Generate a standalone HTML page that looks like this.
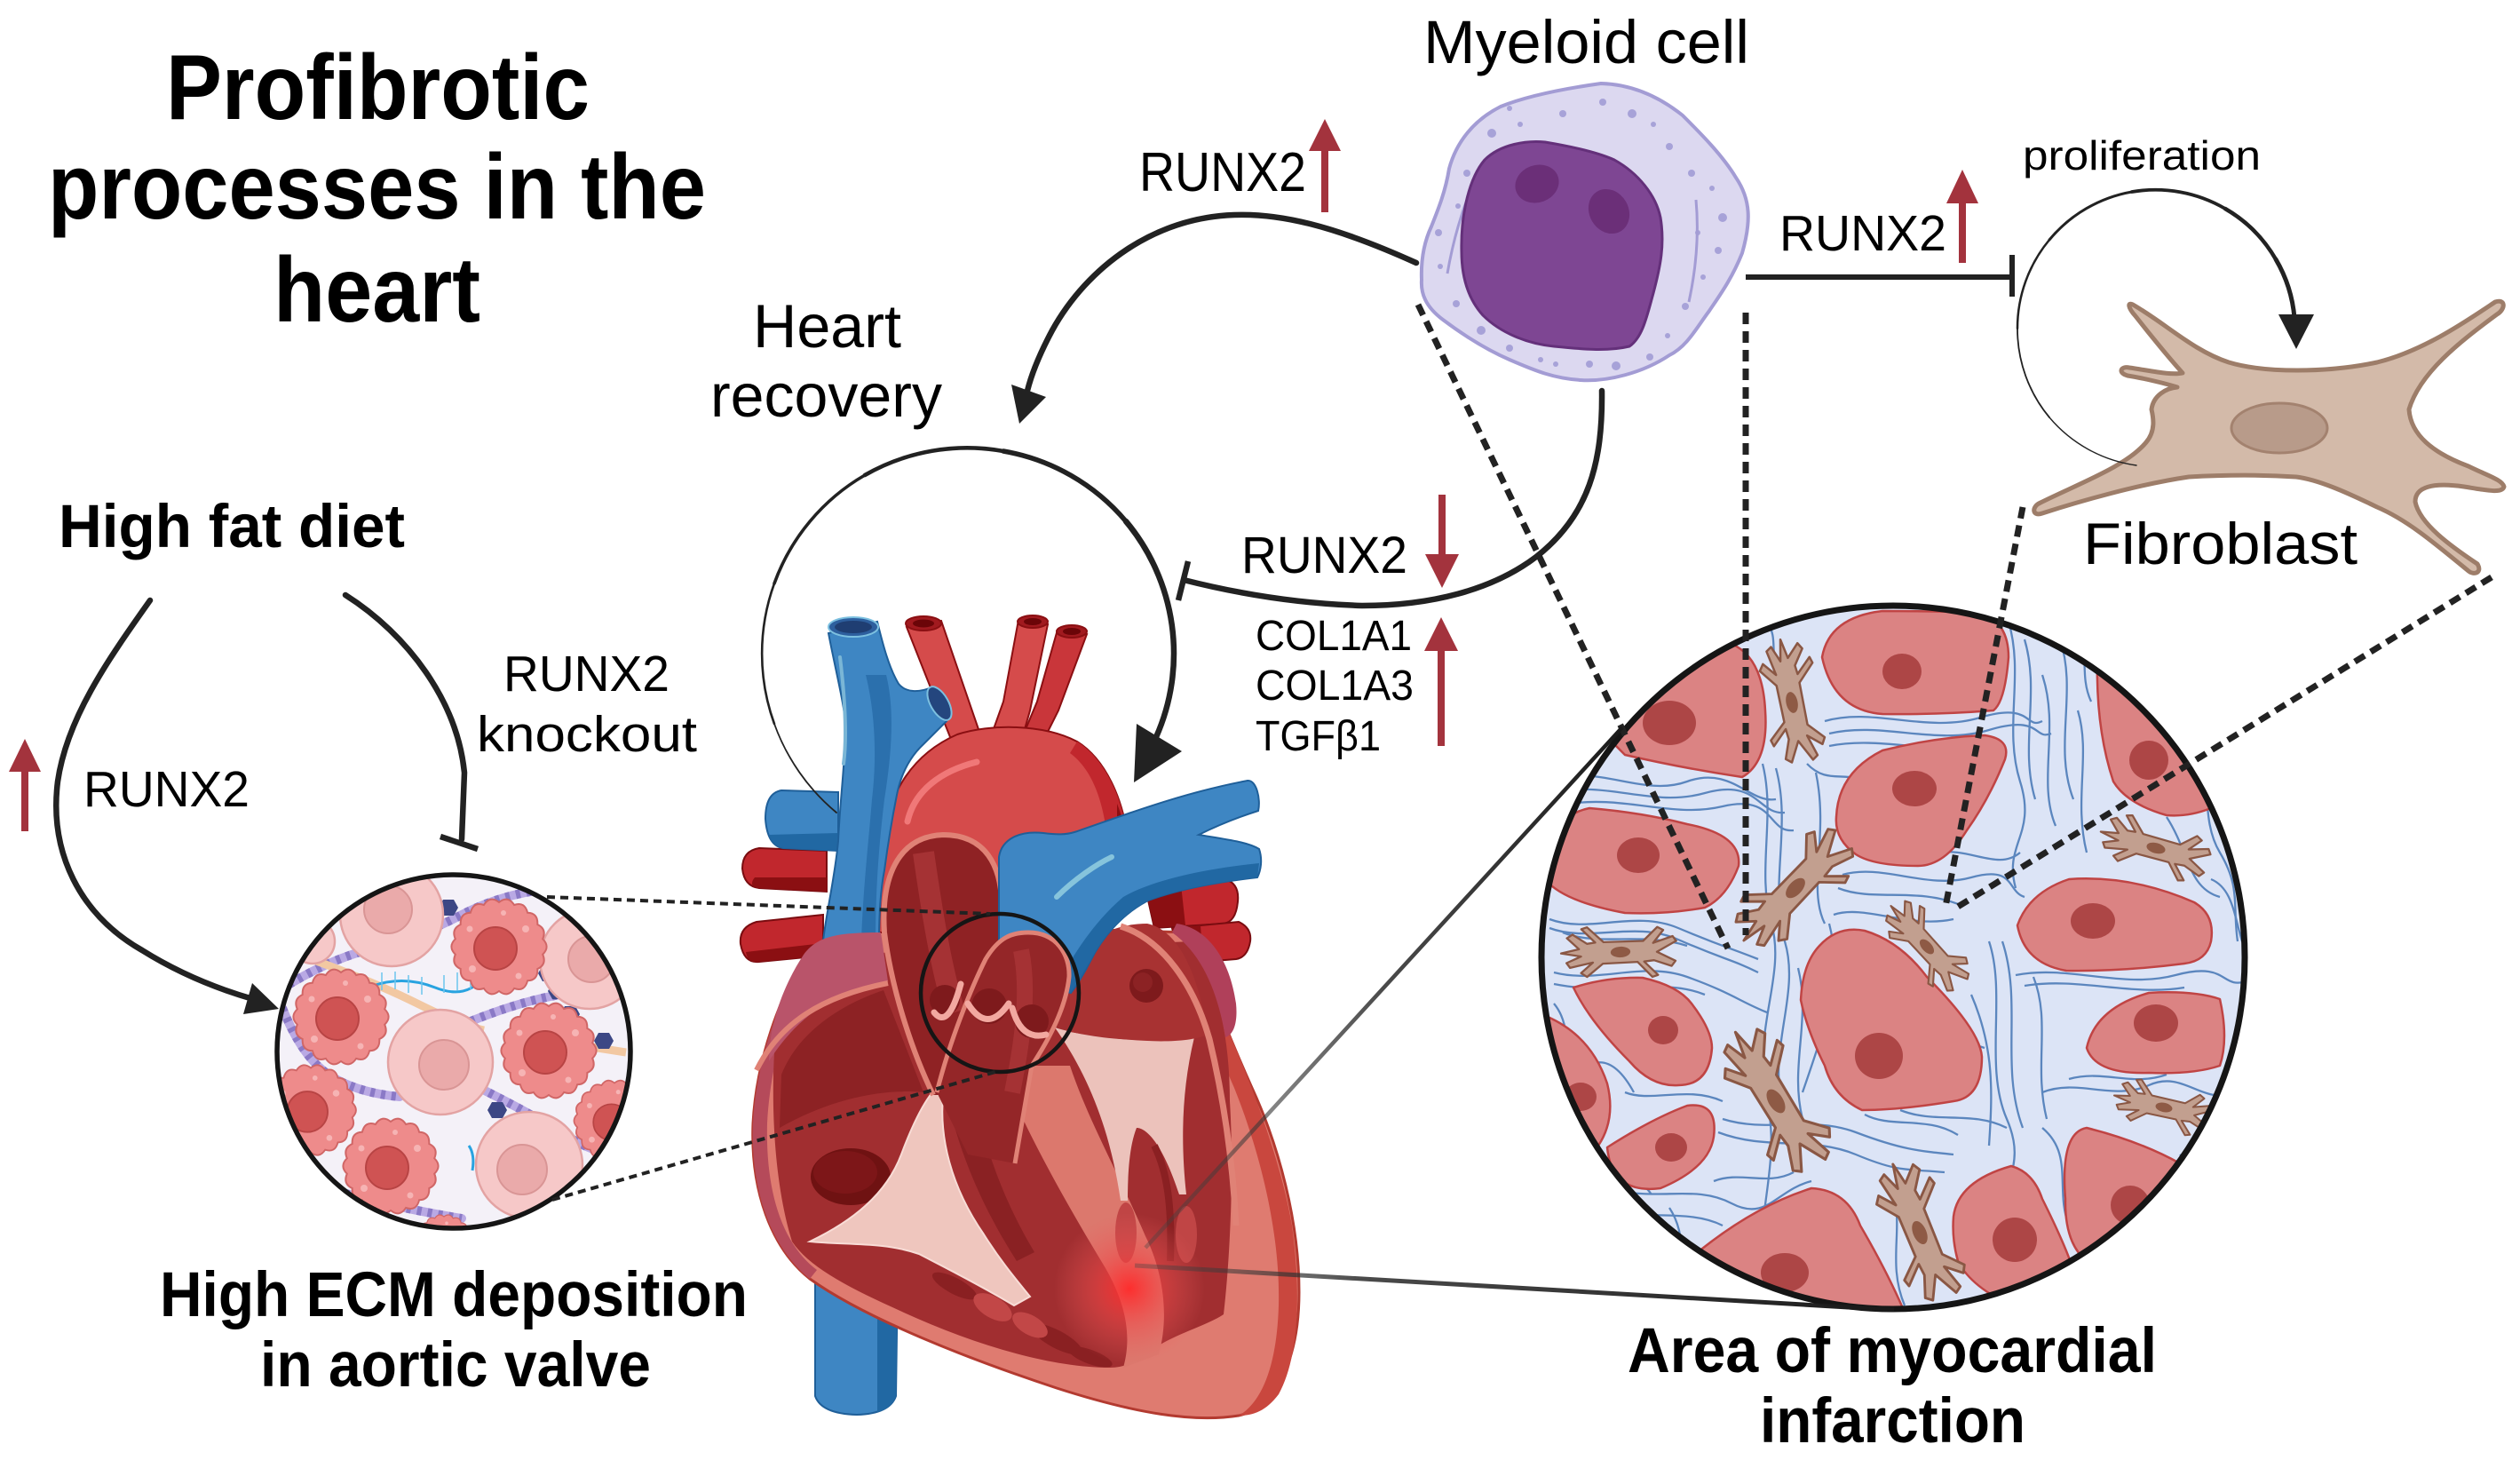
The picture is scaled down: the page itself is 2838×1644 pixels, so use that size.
<!DOCTYPE html>
<html><head><meta charset="utf-8"><style>html,body{margin:0;padding:0;background:#fff}svg{display:block}</style></head>
<body>
<svg width="2838" height="1644" viewBox="0 0 2838 1644" xmlns="http://www.w3.org/2000/svg" font-family="'Liberation Sans', Arial, sans-serif">
<defs>
  <clipPath id="miClip"><circle cx="2132" cy="1078" r="396"/></clipPath>
  <clipPath id="ecmClip"><circle cx="511" cy="1184" r="199"/></clipPath>
  <radialGradient id="glow" cx="1272" cy="1451" r="85" gradientUnits="userSpaceOnUse">
    <stop offset="0" stop-color="#ff2a2a" stop-opacity="0.95"/>
    <stop offset="0.45" stop-color="#f04848" stop-opacity="0.55"/>
    <stop offset="1" stop-color="#e86060" stop-opacity="0"/>
  </radialGradient>
  <linearGradient id="lg1" x1="1290" y1="1405" x2="1827" y2="819" gradientUnits="userSpaceOnUse">
    <stop offset="0" stop-color="#444" stop-opacity="0.35"/><stop offset="0.5" stop-color="#2a2a2a" stop-opacity="0.85"/><stop offset="1" stop-color="#1a1a1a"/>
  </linearGradient>
  <linearGradient id="lg2" x1="1278" y1="1425" x2="2133" y2="1475" gradientUnits="userSpaceOnUse">
    <stop offset="0" stop-color="#444" stop-opacity="0.35"/><stop offset="0.3" stop-color="#2a2a2a" stop-opacity="0.85"/><stop offset="1" stop-color="#1a1a1a"/>
  </linearGradient>
  <g id="fb">
    <path d="M-72,-2 L-50,-6 L-64,-20 L-57,-24 L-40,-12 L-30,-13 L-46,-30 L-39,-32 L-20,-13 L28,-12 L46,-28 L53,-24 L40,-9 L64,-16 L68,-10 L44,2 L66,14 L61,20 L40,12 L28,13 L44,30 L37,32 L20,13 L-22,13 L-42,28 L-49,23 L-34,11 L-62,16 L-66,10 L-48,3 Z" fill="#c29f8f" stroke="#8a5744" stroke-width="2.5" stroke-linejoin="round"/>
    <ellipse cx="0" cy="0" rx="12" ry="6.5" fill="#8e5a45"/>
  </g>
  <g id="bc">
    <path d="M49.2,8.7 Q54,20 43.3,25 Q44,38 32.1,38.3 Q29,51 17.1,47 Q10,58 0,50 Q-10,58 -17.1,47 Q-29,51 -32.1,38.3 Q-44,38 -43.3,25 Q-54,20 -49.2,8.7 Q-58,0 -49.2,-8.7 Q-54,-20 -43.3,-25 Q-44,-38 -32.1,-38.3 Q-29,-51 -17.1,-47 Q-10,-58 0,-50 Q10,-58 17.1,-47 Q29,-51 32.1,-38.3 Q44,-38 43.3,-25 Q54,-20 49.2,-8.7 Q58,0 49.2,8.7 Z" fill="#ee8b8b" stroke="#d06666" stroke-width="2"/>
    <circle cx="-4" cy="2" r="24" fill="#cf5353" stroke="#b84444" stroke-width="2"/>
    <circle cx="30" cy="-20" r="4" fill="#f6b4b4"/><circle cx="-30" cy="25" r="4" fill="#f6b4b4"/><circle cx="22" cy="33" r="3.5" fill="#f6b4b4"/><circle cx="-33" cy="-20" r="3.5" fill="#f6b4b4"/><circle cx="5" cy="-38" r="3" fill="#f6b4b4"/>
  </g>
  <polygon id="hx" points="-6,-9 6,-9 11,0 6,9 -6,9 -11,0" fill="#3c4785"/>
</defs>

<!-- ================= TITLE ================= -->
<g font-weight="700" fill="#000">
  <text x="187" y="134" font-size="104" textLength="477" lengthAdjust="spacingAndGlyphs">Profibrotic</text>
  <text x="54" y="246" font-size="104" textLength="741" lengthAdjust="spacingAndGlyphs">processes in the</text>
  <text x="308" y="362" font-size="104" textLength="233" lengthAdjust="spacingAndGlyphs">heart</text>
  <text x="66" y="616" font-size="69" textLength="390" lengthAdjust="spacingAndGlyphs">High fat diet</text>
  <text x="180" y="1482" font-size="71" textLength="662" lengthAdjust="spacingAndGlyphs">High ECM deposition</text>
  <text x="293" y="1561" font-size="71" textLength="440" lengthAdjust="spacingAndGlyphs">in aortic valve</text>
  <text x="1833" y="1545" font-size="71" textLength="596" lengthAdjust="spacingAndGlyphs">Area of myocardial</text>
  <text x="1982" y="1624" font-size="71" textLength="299" lengthAdjust="spacingAndGlyphs">infarction</text>
</g>

<!-- ================= HEART ================= -->
<g>
  <!-- left red tubes -->
  <path d="M931,958 L855,955 Q836,958 836,978 Q838,998 855,1000 L931,1004 Z" fill="#c1272d" stroke="#7a0c10" stroke-width="2"/>
  <path d="M931,988 L850,988 Q842,998 855,1000 L931,1004Z" fill="#8b0f12"/>
  <path d="M927,1030 L852,1038 Q832,1044 834,1063 Q838,1085 855,1083 L927,1076 Z" fill="#c1272d" stroke="#7a0c10" stroke-width="2"/>
  <path d="M927,1062 L840,1072 Q842,1085 855,1083 L927,1076 Z" fill="#8b0f12"/>
  <!-- blue left branch -->
  <path d="M944,892 L880,890 Q862,893 862,922 Q864,952 882,955 L944,958 Z" fill="#3e86c3" stroke="#1f5f99" stroke-width="2"/>
  <path d="M944,938 L866,940 Q870,952 882,955 L944,958 Z" fill="#2168a3"/>
  <!-- right red tubes -->
  <path d="M1290,1000 L1380,990 Q1396,995 1394,1015 Q1392,1038 1378,1040 L1300,1045 Z" fill="#c1272d" stroke="#7a0c10" stroke-width="2"/>
  <path d="M1320,1045 L1395,1038 Q1410,1045 1408,1060 Q1405,1078 1392,1080 L1330,1085 Z" fill="#c1272d" stroke="#7a0c10" stroke-width="2"/>
  <path d="M1290,1000 L1330,996 L1335,1042 L1300,1045 Z" fill="#8b0f12"/>
  <path d="M1320,1045 L1352,1042 L1355,1083 L1330,1085 Z" fill="#8b0f12"/>
  <!-- IVC -->
  <path d="M918,1430 L918,1572 Q925,1592 965,1593 Q1002,1592 1009,1572 L1011,1430 Z" fill="#3e86c3" stroke="#1f5f99" stroke-width="2"/>
  <path d="M988,1440 L1011,1440 L1009,1572 Q1004,1586 988,1590 Z" fill="#2168a3"/>
  <!-- body -->
  <path d="M905,1080 C880,1120 852,1190 848,1265 C845,1340 868,1405 912,1440 C975,1485 1090,1530 1190,1563 C1280,1592 1345,1602 1395,1594 C1440,1584 1463,1525 1463,1455 C1463,1375 1440,1290 1410,1225 C1392,1185 1380,1155 1372,1135 L1340,1050 L1000,1040 Z" fill="#df7b70" stroke="#b33a30" stroke-width="3"/>
  <path d="M1372,1135 C1392,1180 1440,1290 1455,1380 C1466,1460 1462,1530 1440,1570 C1425,1590 1410,1594 1395,1594 C1420,1580 1438,1540 1440,1470 C1442,1390 1420,1300 1390,1225 C1375,1190 1362,1160 1355,1145 Z" fill="#c9473e"/>
  <path d="M905,1080 C880,1120 852,1190 848,1265 C845,1340 868,1405 912,1440 L920,1430 C880,1400 862,1340 864,1265 C868,1190 890,1130 915,1090 Z" fill="#b54a5a"/>
  <!-- cavity -->
  <path d="M872,1185 C875,1130 900,1095 935,1075 L1345,1060 C1372,1110 1385,1170 1385,1240 C1390,1320 1385,1420 1378,1480 C1360,1492 1330,1500 1305,1515 C1285,1530 1270,1540 1250,1540 C1180,1540 1090,1512 1005,1472 C950,1447 910,1425 892,1398 C874,1340 868,1260 872,1185 Z" fill="#a12e30"/>
  <!-- RV inner shading -->
  <path d="M880,1210 C900,1160 950,1130 995,1115 L1040,1230 C990,1225 930,1240 878,1270 Z" fill="#8d2224"/>
  <ellipse cx="958" cy="1325" rx="45" ry="32" fill="#6f1212"/>
  <ellipse cx="952" cy="1320" rx="36" ry="24" fill="#7d1618"/>
  <!-- septum -->
  <path d="M1125,1200 C1160,1285 1210,1370 1245,1428 C1268,1468 1275,1505 1265,1540 L1305,1525 C1318,1478 1308,1428 1290,1392 C1258,1318 1225,1260 1205,1200 Z" fill="#dc786d"/>
  <path d="M1070,1250 C1085,1310 1110,1365 1145,1420 L1165,1410 C1135,1360 1110,1300 1100,1240 Z" fill="#8a2123"/>
  <!-- tricuspid leaflet -->
  <path d="M912,1398 C960,1375 998,1345 1015,1300 C1030,1260 1042,1240 1050,1230 L1062,1235 C1058,1280 1070,1335 1108,1390 C1128,1422 1148,1445 1160,1460 L1142,1470 C1100,1445 1060,1425 1035,1412 C995,1398 950,1402 912,1398 Z" fill="#efc6be" stroke="#f8dcd6" stroke-width="2"/>
  <g fill="#8a2022">
    <ellipse cx="1075" cy="1448" rx="28" ry="9" transform="rotate(28 1075 1448)"/>
    <ellipse cx="1190" cy="1508" rx="32" ry="10" transform="rotate(28 1190 1508)"/>
    <ellipse cx="1228" cy="1528" rx="26" ry="8" transform="rotate(20 1228 1528)"/>
  </g>
  <g fill="#c24747">
    <ellipse cx="1118" cy="1472" rx="24" ry="12" transform="rotate(30 1118 1472)"/>
    <ellipse cx="1160" cy="1492" rx="22" ry="11" transform="rotate(30 1160 1492)"/>
  </g>
  <!-- mitral chordae -->
  <path d="M1188,1157 C1230,1170 1290,1175 1345,1168 C1330,1230 1330,1290 1336,1345 L1328,1345 C1310,1290 1292,1270 1280,1270 C1272,1290 1270,1320 1270,1352 L1262,1352 C1250,1270 1225,1210 1188,1157 Z" fill="#ecc2bb"/>
  <ellipse cx="1268" cy="1388" rx="12" ry="34" fill="#c04545"/>
  <ellipse cx="1336" cy="1390" rx="12" ry="32" fill="#c04545"/>
  <path d="M1300,1290 C1315,1320 1320,1360 1318,1420" stroke="#8a2022" stroke-width="8" fill="none"/>
  <!-- glow -->
  <circle cx="1272" cy="1451" r="85" fill="url(#glow)"/>

  <!-- aorta branches -->
  <path d="M1021,706 L1060,699 L1105,830 L1072,835 Z" fill="#d54b4b" stroke="#8b0f12" stroke-width="2"/>
  <path d="M1147,698 L1180,703 L1160,800 L1150,835 L1115,832 L1130,790 Z" fill="#d54b4b" stroke="#8b0f12" stroke-width="2"/>
  <path d="M1191,709 L1224,714 L1192,800 L1172,840 L1148,838 L1168,790 Z" fill="#c9363a" stroke="#8b0f12" stroke-width="2"/>
  <ellipse cx="1040" cy="702" rx="20" ry="8" fill="#a11a1f" stroke="#8b0f12" stroke-width="2"/>
  <ellipse cx="1040" cy="702" rx="12" ry="4.5" fill="#6b0508"/>
  <ellipse cx="1163" cy="700" rx="17" ry="7" fill="#a11a1f" stroke="#8b0f12" stroke-width="2"/>
  <ellipse cx="1163" cy="700" rx="10" ry="4" fill="#6b0508"/>
  <ellipse cx="1207" cy="711" rx="17" ry="7" fill="#a11a1f" stroke="#8b0f12" stroke-width="2"/>
  <ellipse cx="1207" cy="711" rx="10" ry="4" fill="#6b0508"/>
  <!-- aorta arch -->
  <path d="M990,1050 L994,950 C1000,890 1030,848 1078,827 C1115,815 1175,815 1213,835 C1245,855 1265,900 1270,945 L1275,1005 L1220,1000 L1180,965 L1130,960 L1126,1050 Z" fill="#d54b4b" stroke="#8b0f12" stroke-width="2"/>
  <path d="M1213,835 C1245,855 1265,900 1270,945 L1275,1005 L1250,1003 L1246,935 C1240,895 1228,865 1205,848 Z" fill="#c1272d"/>
  <path d="M1258,905 C1266,925 1270,945 1275,1005 L1262,1004 L1258,940 Z" fill="#8b0f12"/>
  <path d="M1022,925 C1030,890 1060,868 1100,858" stroke="#f07878" stroke-width="7" fill="none" stroke-linecap="round"/>
  <!-- SVC -->
  <path d="M933,713 C940,750 950,790 952,813 C952,860 946,900 944,947 C940,990 930,1030 927,1060 L990,1060 C990,1030 992,1000 996,980 C1000,950 1005,920 1010,895 C1015,870 1025,852 1040,838 L1066,812 L1049,774 C1035,780 1020,780 1012,770 C1000,750 993,720 988,700 Z" fill="#3e86c3" stroke="#1f5f99" stroke-width="2"/>
  <path d="M975,760 L998,760 C1008,800 1004,850 996,900 C990,950 986,1000 986,1060 L970,1060 C972,1000 978,950 982,900 C988,850 985,800 975,760 Z" fill="#2b70ad"/>
  <ellipse cx="961" cy="706" rx="28" ry="11" fill="#2d5f9e" stroke="#7cc0e0" stroke-width="2"/>
  <ellipse cx="961" cy="706" rx="21" ry="7" fill="#1f3e72"/>
  <ellipse cx="1058" cy="792" rx="10" ry="21" transform="rotate(-30 1058 792)" fill="#24467e" stroke="#7cc0e0" stroke-width="2"/>
  <path d="M946,740 C952,790 954,830 950,860" stroke="#7ab6d6" stroke-width="4" fill="none" stroke-linecap="round"/>
  <!-- right atrium (pinkish) -->
  <path d="M905,1075 C920,1055 940,1050 992,1050 L1000,1105 C950,1112 900,1140 866,1195 C866,1150 885,1105 905,1075 Z" fill="#b9546a"/>
  <path d="M852,1205 C878,1152 925,1122 1000,1107" stroke="#e08276" stroke-width="6" fill="none"/>
  <!-- left atrium -->
  <path d="M1205,1085 C1225,1052 1262,1040 1292,1040 C1322,1046 1348,1085 1360,1165 C1330,1178 1262,1172 1205,1162 Z" fill="#a83232"/>
  <path d="M1262,1043 C1310,1058 1345,1110 1362,1170 C1376,1228 1388,1300 1392,1380" stroke="#e08276" stroke-width="7" fill="none"/>
  <path d="M1325,1040 C1360,1045 1385,1080 1392,1130 C1394,1150 1390,1165 1380,1168 C1372,1120 1355,1075 1320,1050 Z" fill="#b0405a"/>
  <circle cx="1291" cy="1110" r="19" fill="#7e1a1c"/>
  <circle cx="1287" cy="1106" r="11" fill="#8c2224"/>
  <!-- aortic root loop -->
  <path d="M1051,1233 C1030,1190 1005,1120 996,1050 C992,990 1010,942 1062,940 C1110,940 1128,975 1128,1020 L1128,1070 L1100,1100 L1080,1233 Z" fill="#8f2224"/>
  <path d="M1040,960 C1050,1030 1060,1090 1075,1140" stroke="#a53234" stroke-width="24" fill="none"/>
  <path d="M1051,1233 C1030,1190 1005,1120 996,1050 C992,990 1010,942 1062,940 C1110,940 1128,975 1128,1020 L1128,1070" stroke="#e08276" stroke-width="6" fill="none"/>
  <!-- pulmonary trunk -->
  <path d="M1125,965 C1128,945 1148,935 1175,938 C1190,940 1200,940 1210,937 C1260,920 1330,893 1405,879 C1415,878 1420,900 1417,913 C1395,920 1370,930 1350,940 C1380,945 1405,948 1418,956 C1422,968 1420,980 1416,988 C1380,992 1330,1000 1293,1014 C1262,1030 1240,1058 1228,1082 C1220,1098 1212,1110 1206,1118 L1150,1105 C1135,1090 1126,1075 1125,1060 Z" fill="#3e86c3" stroke="#1f5f99" stroke-width="2"/>
  <path d="M1416,988 C1380,992 1330,1000 1293,1014 C1262,1030 1240,1058 1228,1082 L1206,1118 L1190,1112 C1205,1080 1230,1040 1265,1010 C1300,990 1360,978 1418,972 Z" fill="#2168a3"/>
  <path d="M1190,1010 C1210,990 1235,973 1252,965" stroke="#86c4dc" stroke-width="6" fill="none" stroke-linecap="round"/>
  <!-- pulmonary root loop -->
  <path d="M1055,1230 C1070,1170 1095,1110 1110,1080 C1125,1055 1140,1050 1158,1050 C1190,1050 1205,1075 1204,1100 C1200,1140 1175,1180 1162,1200 L1143,1310 L1090,1300 Z" fill="#942628"/>
  <path d="M1150,1070 C1160,1120 1150,1180 1140,1230" stroke="#a53234" stroke-width="18" fill="none"/>
  <path d="M1055,1230 C1070,1170 1095,1110 1110,1080 C1125,1055 1140,1050 1158,1050 C1190,1050 1205,1075 1204,1100 C1200,1140 1175,1180 1162,1200 L1143,1310" stroke="#e08276" stroke-width="5" fill="none"/>
  <!-- cusps -->
  <g fill="#7e1a1c">
    <circle cx="1064" cy="1126" r="17"/><circle cx="1114" cy="1133" r="20"/><circle cx="1162" cy="1150" r="19"/>
  </g>
  <g fill="none" stroke="#f2a8a0" stroke-width="7" stroke-linecap="round">
    <path d="M1052,1140 Q1068,1160 1082,1108"/>
    <path d="M1090,1130 Q1112,1165 1136,1130"/>
    <path d="M1140,1135 Q1150,1172 1178,1165"/>
  </g>
  <!-- small black circle -->
  <circle cx="1126" cy="1118" r="89" fill="none" stroke="#151515" stroke-width="4.5"/>
</g>

<!-- ================= ECM CIRCLE ================= -->
<g clip-path="url(#ecmClip)">
  <rect x="300" y="970" width="430" height="430" fill="#f4f1f8"/>
  <g fill="none" stroke-width="10" stroke-linecap="round">
    <path d="M315,1115 Q370,1080 420,1068 T520,1030 T630,1000" stroke="#b9a9e4"/>
    <path d="M318,1135 Q340,1190 370,1210 T450,1235" stroke="#b9a9e4"/>
    <path d="M530,1150 Q580,1130 620,1122 T710,1098" stroke="#b9a9e4"/>
    <path d="M540,1225 Q600,1255 640,1280 T715,1300" stroke="#b9a9e4"/>
    <path d="M320,1320 Q370,1340 420,1352 T520,1372" stroke="#b9a9e4"/>
    <path d="M600,1372 Q640,1365 680,1335" stroke="#b9a9e4"/>
  </g>
  <g fill="none" stroke-width="10" stroke-dasharray="5 7" stroke="#8a79c6">
    <path d="M315,1115 Q370,1080 420,1068 T520,1030 T630,1000"/>
    <path d="M318,1135 Q340,1190 370,1210 T450,1235"/>
    <path d="M530,1150 Q580,1130 620,1122 T710,1098"/>
    <path d="M540,1225 Q600,1255 640,1280 T715,1300"/>
    <path d="M320,1320 Q370,1340 420,1352 T520,1372"/>
    <path d="M600,1372 Q640,1365 680,1335"/>
  </g>
  <path d="M345,1078 Q420,1105 470,1130 T545,1160" stroke="#f2c8a2" stroke-width="9" fill="none"/>
  <path d="M660,1178 L705,1185" stroke="#f2c8a2" stroke-width="9"/>
  <path d="M420,1110 Q455,1098 490,1112 T545,1100" stroke="#29a3e0" stroke-width="3" fill="none"/>
  <path d="M430,1095 l0,20 M445,1094 l0,20 M460,1098 l0,20 M475,1100 l0,20 M500,1098 l0,20 M515,1095 l0,20 M530,1094 l0,20" stroke="#6cc4ee" stroke-width="1.5"/>
  <path d="M528,1290 Q535,1300 532,1318" stroke="#29a3e0" stroke-width="3" fill="none"/>
  <g>
    <use href="#hx" x="505" y="1022"/><use href="#hx" x="617" y="1096"/><use href="#hx" x="628" y="1116"/>
    <use href="#hx" x="680" y="1172"/><use href="#hx" x="692" y="1232"/><use href="#hx" x="560" y="1250"/>
    <use href="#hx" x="470" y="1300"/><use href="#hx" x="642" y="1142"/><use href="#hx" x="680" y="1258"/>
  </g>
  <g fill="#f6c8c8" stroke="#e3a3a3" stroke-width="2.5">
    <circle cx="441" cy="1030" r="58"/><circle cx="664" cy="1080" r="56"/>
    <circle cx="496" cy="1196" r="59"/><circle cx="596" cy="1312" r="60"/>
    <circle cx="352" cy="1060" r="25"/>
  </g>
  <g fill="#eaaaaa" stroke="#d99595" stroke-width="2">
    <circle cx="437" cy="1024" r="27"/><circle cx="666" cy="1080" r="26"/>
    <circle cx="500" cy="1199" r="28"/><circle cx="588" cy="1317" r="28"/>
  </g>
  <use href="#bc" transform="translate(562,1066)"/>
  <use href="#bc" transform="translate(384,1145)"/>
  <use href="#bc" transform="translate(618,1183)"/>
  <use href="#bc" transform="translate(350,1250) scale(0.95)"/>
  <use href="#bc" transform="translate(440,1313)"/>
  <use href="#bc" transform="translate(692,1262) scale(0.85)"/>
  <use href="#bc" transform="translate(500,1400) scale(0.6)"/>
</g>
<circle cx="511" cy="1184" r="199" fill="none" stroke="#151515" stroke-width="5.5"/>

<!-- ================= MI CIRCLE ================= -->
<g clip-path="url(#miClip)">
  <rect x="1730" y="675" width="810" height="810" fill="#dce4f6"/>
  <g fill="none" stroke="#5b86be" stroke-width="2.3">
    <path d="M1745,878 C1800,860 1850,898 1900,880 S1970,905 2000,900"/>
    <path d="M1748,893 C1810,878 1860,910 1920,893 S1980,918 2010,915"/>
    <path d="M1760,906 C1830,894 1880,922 1940,908 S1990,938 2020,935"/>
    <path d="M1745,1035 C1790,1052 1840,1024 1890,1045 S1950,1068 1980,1080"/>
    <path d="M1745,1045 C1790,1062 1840,1036 1890,1058 S1950,1080 1980,1095"/>
    <path d="M1750,1095 C1800,1108 1850,1082 1900,1100 S1960,1128 1990,1140"/>
    <path d="M1750,1108 C1820,1122 1870,1100 1920,1120"/>
    <path d="M1985,860 C2000,920 1978,980 1995,1040 S1972,1160 1990,1240 S1968,1380 1990,1480"/>
    <path d="M2000,865 C2018,930 1992,1000 2010,1060 S1990,1180 2008,1250"/>
    <path d="M2045,870 C2060,940 2035,1000 2055,1040"/>
    <path d="M2025,1090 C2040,1150 2015,1200 2030,1260"/>
    <path d="M2055,812 C2110,796 2170,826 2230,808 S2280,822 2300,812"/>
    <path d="M2060,826 C2120,812 2180,840 2240,822 S2290,834 2310,826"/>
    <path d="M2060,840 C2120,828 2180,852 2240,838"/>
    <path d="M2262,700 C2280,760 2256,820 2275,880 S2256,950 2270,1000"/>
    <path d="M2280,720 C2298,780 2274,840 2292,900"/>
    <path d="M2300,760 C2320,820 2294,880 2315,930"/>
    <path d="M2320,720 C2340,780 2312,840 2335,900"/>
    <path d="M2340,800 C2355,850 2335,900 2350,960"/>
    <path d="M2075,985 C2120,972 2170,1002 2220,988 S2260,1004 2280,1010"/>
    <path d="M2070,1000 C2110,1016 2160,998 2210,1020"/>
    <path d="M2065,1030 C2100,1018 2150,1046 2200,1035"/>
    <path d="M2270,1098 C2330,1086 2390,1114 2450,1098 S2500,1114 2530,1105"/>
    <path d="M2280,1110 C2340,1100 2400,1122 2460,1112"/>
    <path d="M2240,1060 C2260,1120 2234,1200 2260,1260 S2244,1330 2265,1400"/>
    <path d="M2255,1060 C2278,1130 2252,1200 2278,1270"/>
    <path d="M2290,1100 C2310,1150 2290,1200 2305,1260"/>
    <path d="M2300,1230 C2340,1214 2380,1240 2420,1222 S2480,1246 2520,1230"/>
    <path d="M2330,1215 C2370,1204 2400,1224 2440,1210"/>
    <path d="M2300,1270 C2336,1300 2314,1340 2330,1380"/>
    <path d="M1940,1260 C1990,1276 2040,1256 2090,1275 S2160,1296 2200,1300"/>
    <path d="M1935,1275 C1990,1296 2040,1279 2090,1300 S2150,1316 2190,1320"/>
    <path d="M1930,1330 C1960,1318 1990,1336 2020,1320"/>
    <path d="M1760,1235 C1780,1195 1810,1175 1840,1230"/>
    <path d="M1830,1230 C1860,1242 1900,1222 1940,1240"/>
    <path d="M1750,1130 C1775,1160 1755,1200 1780,1230"/>
    <path d="M1820,1340 C1870,1352 1910,1334 1950,1355 S2000,1340 2040,1330"/>
    <path d="M1800,1360 C1850,1376 1900,1360 1940,1380"/>
    <path d="M2140,1250 C2180,1266 2220,1250 2260,1270"/>
    <path d="M2330,1300 C2360,1316 2380,1296 2420,1320"/>
    <path d="M2455,1300 C2480,1326 2500,1306 2520,1330"/>
    <path d="M2130,1340 C2146,1380 2124,1420 2145,1470"/>
    <path d="M2470,830 C2494,870 2476,920 2500,960 S2514,1020 2520,1060"/>
    <path d="M2490,990 C2514,1000 2516,1030 2525,1060"/>
    <path d="M1990,700 C2004,720 1991,740 2005,760"/>
    <path d="M2340,700 C2354,730 2341,760 2355,790"/>
    <path d="M2035,860 C2060,886 2080,864 2110,885"/>
    <path d="M2100,1255 C2130,1271 2170,1256 2205,1278"/>
    <path d="M1760,1050 C1800,1066 1850,1049 1900,1065"/>
    <path d="M2060,1040 C2076,1100 2054,1160 2030,1230"/>
    <path d="M2220,1120 C2246,1180 2244,1230 2240,1290"/>
    <path d="M2180,960 C2220,954 2250,981 2275,960"/>
    <path d="M1770,1300 C1800,1326 1830,1304 1860,1345"/>
    <path d="M2440,920 C2466,960 2464,1000 2500,1010"/>
    <path d="M1880,1360 C1900,1390 1890,1420 1905,1460"/>
    <path d="M2160,1130 C2190,1150 2200,1170 2235,1180"/>
  </g>
  <g fill="#db8383" stroke="#c04444" stroke-width="2.5" stroke-linejoin="round">
    <path d="M1800,820 Q1875,770 1950,725 Q1985,740 1988,800 Q1992,858 1962,875 Q1895,865 1830,850 Z"/>
    <path d="M2052,740 Q2060,695 2120,688 Q2180,688 2230,690 Q2262,700 2262,740 Q2258,790 2245,800 Q2180,805 2120,804 Q2065,800 2052,740 Z"/>
    <path d="M2068,920 Q2070,870 2120,845 Q2180,830 2235,828 Q2265,832 2258,855 Q2240,900 2215,935 Q2190,975 2160,975 Q2110,975 2090,962 Q2066,945 2068,920 Z"/>
    <path d="M1740,990 Q1740,920 1790,910 Q1850,915 1900,928 Q1962,940 1958,975 Q1945,1010 1920,1022 Q1875,1030 1830,1028 Q1760,1015 1740,990 Z"/>
    <path d="M1772,1112 Q1810,1100 1850,1101 Q1890,1110 1905,1130 Q1928,1160 1928,1180 Q1925,1222 1890,1222 Q1860,1224 1835,1195 Q1790,1150 1772,1112 Z"/>
    <path d="M1730,1140 Q1790,1160 1810,1220 Q1820,1260 1800,1290 Q1760,1300 1730,1300 Z"/>
    <path d="M1810,1292 Q1860,1260 1900,1245 Q1935,1240 1930,1280 Q1925,1315 1870,1338 Q1815,1345 1810,1292 Z"/>
    <path d="M2049,1065 Q2070,1042 2100,1048 Q2140,1060 2170,1100 Q2230,1160 2232,1190 Q2232,1236 2200,1240 Q2140,1250 2097,1250 Q2065,1235 2055,1200 Q2035,1160 2028,1126 Q2030,1085 2049,1065 Z"/>
    <path d="M1900,1420 Q1970,1360 2040,1338 Q2080,1340 2095,1380 Q2130,1440 2150,1490 L1920,1500 Z"/>
    <path d="M2362,740 Q2390,720 2420,718 Q2460,750 2480,790 Q2495,860 2490,910 Q2465,920 2440,918 Q2395,905 2380,880 Q2360,820 2362,740 Z"/>
    <path d="M2272,1042 Q2285,1005 2330,990 Q2400,985 2471,1016 Q2495,1030 2490,1060 Q2485,1082 2460,1085 Q2390,1094 2327,1093 Q2280,1085 2272,1042 Z"/>
    <path d="M2350,1180 Q2360,1135 2420,1118 Q2470,1115 2500,1125 Q2510,1170 2500,1200 Q2470,1210 2420,1208 Q2360,1210 2350,1180 Z"/>
    <path d="M2326,1350 Q2320,1275 2350,1270 Q2410,1285 2455,1310 Q2440,1380 2420,1400 Q2380,1420 2350,1420 Q2325,1400 2326,1350 Z"/>
    <path d="M2200,1370 Q2205,1330 2265,1313 Q2290,1320 2300,1350 Q2330,1410 2338,1440 Q2310,1475 2270,1472 Q2220,1450 2205,1420 Q2198,1395 2200,1370 Z"/>
  </g>
  <g fill="#ad4646">
    <ellipse cx="1880" cy="814" rx="30" ry="25"/><ellipse cx="2142" cy="756" rx="22" ry="20"/>
    <ellipse cx="2156" cy="888" rx="25" ry="20"/><ellipse cx="1845" cy="963" rx="24" ry="20"/>
    <ellipse cx="1873" cy="1160" rx="17" ry="16"/><ellipse cx="1780" cy="1235" rx="18" ry="16"/>
    <ellipse cx="1882" cy="1292" rx="18" ry="16"/><ellipse cx="2116" cy="1189" rx="27" ry="26"/>
    <ellipse cx="2010" cy="1433" rx="27" ry="22"/><ellipse cx="2420" cy="856" rx="22" ry="22"/>
    <ellipse cx="2357" cy="1037" rx="25" ry="20"/><ellipse cx="2428" cy="1152" rx="25" ry="21"/>
    <ellipse cx="2399" cy="1357" rx="22" ry="22"/><ellipse cx="2269" cy="1396" rx="25" ry="25"/>
  </g>
  <use href="#fb" transform="translate(2018,791) rotate(78)"/>
  <use href="#fb" transform="translate(2022,1000) rotate(-47) scale(1.15)"/>
  <use href="#fb" transform="translate(1825,1072) rotate(-3) scale(0.93)"/>
  <use href="#fb" transform="translate(2000,1240) rotate(58) scale(1.25)"/>
  <use href="#fb" transform="translate(2162,1388) rotate(67) scale(1.15)"/>
  <use href="#fb" transform="translate(2170,1066) rotate(47) scale(0.85)"/>
  <use href="#fb" transform="translate(2428,955) rotate(15) scale(0.9)"/>
  <use href="#fb" transform="translate(2437,1247) rotate(12) scale(0.8)"/>
</g>
<circle cx="2132" cy="1078" r="396" fill="none" stroke="#151515" stroke-width="7"/>

<!-- ================= MYELOID CELL ================= -->
<g>
  <path d="M1601,315 C1600,290 1605,270 1612,255 C1620,235 1628,215 1632,190 C1640,160 1660,135 1690,120 C1720,108 1760,100 1803,94 C1840,95 1870,110 1895,130 C1915,150 1940,175 1955,200 C1972,225 1972,250 1962,285 C1950,315 1935,335 1925,350 C1910,370 1900,390 1880,400 C1850,420 1810,430 1780,428 C1750,426 1730,418 1700,405 C1670,392 1645,375 1625,360 C1605,345 1600,330 1601,315 Z" fill="#dcd8f0" stroke="#a39cd4" stroke-width="4"/>
  <g fill="#a7a2d8">
    <circle cx="1680" cy="150" r="5"/><circle cx="1712" cy="140" r="3"/><circle cx="1760" cy="128" r="4"/><circle cx="1805" cy="115" r="4"/>
    <circle cx="1838" cy="128" r="5"/><circle cx="1862" cy="140" r="3"/><circle cx="1880" cy="165" r="4"/><circle cx="1905" cy="195" r="4"/>
    <circle cx="1928" cy="212" r="3"/><circle cx="1940" cy="245" r="5"/><circle cx="1935" cy="282" r="4"/><circle cx="1918" cy="312" r="3"/>
    <circle cx="1898" cy="345" r="4"/><circle cx="1878" cy="378" r="3"/><circle cx="1858" cy="402" r="4"/><circle cx="1820" cy="412" r="5"/>
    <circle cx="1790" cy="410" r="4"/><circle cx="1752" cy="410" r="3"/><circle cx="1700" cy="392" r="4"/><circle cx="1668" cy="372" r="5"/>
    <circle cx="1640" cy="342" r="4"/><circle cx="1622" cy="300" r="3"/><circle cx="1620" cy="262" r="4"/><circle cx="1642" cy="232" r="3"/>
    <circle cx="1652" cy="195" r="4"/><circle cx="1700" cy="122" r="3"/><circle cx="1735" cy="405" r="3"/><circle cx="1912" cy="262" r="3"/>
  </g>
  <path d="M1662,200 Q1640,250 1630,308" stroke="#a39cd4" stroke-width="3" fill="none"/>
  <path d="M1910,225 Q1915,280 1902,340" stroke="#a39cd4" stroke-width="3" fill="none"/>
  <path d="M1646,283 C1645,240 1655,200 1672,180 C1690,162 1720,158 1740,160 C1770,165 1800,172 1818,180 C1845,195 1865,220 1870,245 C1875,275 1870,300 1862,330 C1855,355 1850,380 1835,390 C1810,396 1780,393 1750,390 C1720,387 1690,375 1670,355 C1652,335 1646,310 1646,283 Z" fill="#7e4693" stroke="#64307a" stroke-width="3"/>
  <ellipse cx="1731" cy="207" rx="25" ry="21" transform="rotate(-20 1731 207)" fill="#6b2f78"/>
  <ellipse cx="1812" cy="238" rx="22" ry="26" transform="rotate(-30 1812 238)" fill="#6b2f78"/>
</g>

<!-- ================= FIBROBLAST ================= -->
<g>
  <path d="M2402,343 C2440,365 2470,395 2510,408 C2550,420 2620,420 2677,408 C2730,395 2780,360 2810,340 C2822,336 2822,348 2812,354 C2770,385 2725,420 2713,461 C2715,490 2740,510 2780,525 C2800,535 2818,540 2820,548 C2818,556 2800,552 2775,548 C2740,543 2720,548 2720,565 C2725,590 2760,615 2790,635 C2796,645 2786,648 2780,643 C2740,610 2710,585 2677,571 C2640,553 2610,540 2586,537 C2540,534 2500,535 2465,537 C2410,545 2340,565 2300,578 C2288,582 2288,570 2298,566 C2340,545 2395,525 2417,498 C2428,485 2425,470 2423,461 C2425,445 2440,437 2452,436 C2440,432 2410,425 2396,423 C2385,420 2388,412 2398,414 C2420,417 2445,423 2458,420 C2440,400 2420,375 2405,356 C2396,346 2396,340 2402,343 Z" fill="#d3baa9" stroke="#9d7d69" stroke-width="5" stroke-linejoin="round"/>
  <ellipse cx="2567" cy="482" rx="54" ry="28" fill="#b89b8a" stroke="#a3826f" stroke-width="3"/>
</g>

<!-- ================= DOTTED LINES ================= -->
<g fill="none" stroke="#222" stroke-width="7" stroke-dasharray="13 8">
  <path d="M1597,343 L1946,1068"/>
  <path d="M1966,352 L1966,1053"/>
  <path d="M2278,571 L2191,1021"/>
  <path d="M2806,650 L2200,1024"/>
</g>
<g fill="none" stroke="#222" stroke-width="4" stroke-dasharray="9 6">
  <path d="M616,1010 L1115,1029"/>
  <path d="M622,1351 L1121,1207"/>
</g>

<!-- MI connector lines -->
<path d="M1290,1405 L1827,819" stroke="url(#lg1)" stroke-width="4.5" fill="none"/>
<path d="M1278,1425 L2133,1475" stroke="url(#lg2)" stroke-width="5" fill="none"/>

<!-- ================= CONNECTORS ================= -->
<g fill="none" stroke="#222" stroke-linecap="round">
  <path d="M1595,296 C1500,253 1440,240 1390,242 C1300,245 1225,300 1185,372 C1170,400 1162,420 1157,440" stroke-width="6.5"/>
  <path d="M1804,440 C1805,520 1790,580 1730,627 C1680,665 1610,682 1534,682 C1470,680 1400,670 1333,653" stroke-width="6.5"/>
  <path d="M1338,632 L1327,676" stroke-width="6.5" stroke-linecap="butt"/>
  <path d="M1966,312 L2266,312" stroke-width="6" stroke-linecap="butt"/>
  <path d="M2266,287 L2266,334" stroke-width="6" stroke-linecap="butt"/>
  <path d="M169,676 C120,745 75,810 65,880 C55,960 90,1030 160,1070 C200,1095 240,1112 285,1125" stroke-width="6.5"/>
  <path d="M389,670 C460,715 515,790 523,870 L520,945" stroke-width="6.5"/>
  <path d="M496,942 L538,956" stroke-width="6.5" stroke-linecap="butt"/>
  <path d="M942,915 A232,232 0 0 1 872,815" stroke-width="1.8"/>
  <path d="M872,815 A232,232 0 0 1 872,657" stroke-width="2.6"/>
  <path d="M872,657 A232,232 0 0 1 974,535" stroke-width="3.6"/>
  <path d="M974,535 A232,232 0 0 1 1130,508" stroke-width="4.6"/>
  <path d="M1130,508 A232,232 0 0 1 1268,587" stroke-width="5.6"/>
  <path d="M1268,587 A232,232 0 0 1 1302,830" stroke-width="6.5"/>
  <path d="M2406,524 A156,156 0 0 1 2308,470" stroke-width="1.4"/>
  <path d="M2308,470 A156,156 0 0 1 2272,370" stroke-width="1.8"/>
  <path d="M2272,370 A156,156 0 0 1 2308,270" stroke-width="2.5"/>
  <path d="M2308,270 A156,156 0 0 1 2401,216" stroke-width="3"/>
  <path d="M2401,216 A156,156 0 0 1 2506,235" stroke-width="3.8"/>
  <path d="M2506,235 A156,156 0 0 1 2563,292" stroke-width="4.5"/>
  <path d="M2563,292 A156,156 0 0 1 2584,358" stroke-width="5"/>
</g>
<g fill="#222">
  <polygon points="1139,433 1178,447 1148,477"/>
  <polygon points="284,1107 314,1136 274,1142"/>
  <polygon points="1280,815 1331,846 1277,881"/>
  <polygon points="2566,354 2606,354 2586,393"/>
</g>

<!-- ================= RED ARROWS ================= -->
<g fill="#a3333d">
  <rect x="1488" y="166" width="8" height="73"/><polygon points="1474,170 1510,170 1492,134"/>
  <rect x="1620" y="557" width="8" height="70"/><polygon points="1605,624 1643,624 1624,662"/>
  <rect x="1619" y="730" width="8" height="110"/><polygon points="1604,733 1642,733 1623,695"/>
  <rect x="2206" y="226" width="8" height="70"/><polygon points="2192,229 2228,229 2210,191"/>
  <rect x="24" y="866" width="8" height="70"/><polygon points="10,869 46,869 28,832"/>
</g>

<!-- ================= REGULAR LABELS ================= -->
<g fill="#000">
  <text x="1603" y="71" font-size="69" textLength="367" lengthAdjust="spacingAndGlyphs">Myeloid cell</text>
  <text x="1283" y="215" font-size="62" textLength="188" lengthAdjust="spacingAndGlyphs">RUNX2</text>
  <text x="848" y="391" font-size="69" textLength="167" lengthAdjust="spacingAndGlyphs">Heart</text>
  <text x="800" y="469" font-size="69" textLength="261" lengthAdjust="spacingAndGlyphs">recovery</text>
  <text x="1398" y="645" font-size="58" textLength="187" lengthAdjust="spacingAndGlyphs">RUNX2</text>
  <text x="1414" y="732" font-size="48" textLength="176" lengthAdjust="spacingAndGlyphs">COL1A1</text>
  <text x="1414" y="788" font-size="48" textLength="178" lengthAdjust="spacingAndGlyphs">COL1A3</text>
  <text x="1414" y="845" font-size="48" textLength="141" lengthAdjust="spacingAndGlyphs">TGFβ1</text>
  <text x="2004" y="282" font-size="57" textLength="188" lengthAdjust="spacingAndGlyphs">RUNX2</text>
  <text x="2278" y="191" font-size="46" textLength="268" lengthAdjust="spacingAndGlyphs">proliferation</text>
  <text x="2346" y="635" font-size="66" textLength="309" lengthAdjust="spacingAndGlyphs">Fibroblast</text>
  <text x="567" y="778" font-size="57" textLength="187" lengthAdjust="spacingAndGlyphs">RUNX2</text>
  <text x="537" y="846" font-size="57" textLength="248" lengthAdjust="spacingAndGlyphs">knockout</text>
  <text x="94" y="908" font-size="57" textLength="187" lengthAdjust="spacingAndGlyphs">RUNX2</text>
</g>
</svg>
</body></html>
